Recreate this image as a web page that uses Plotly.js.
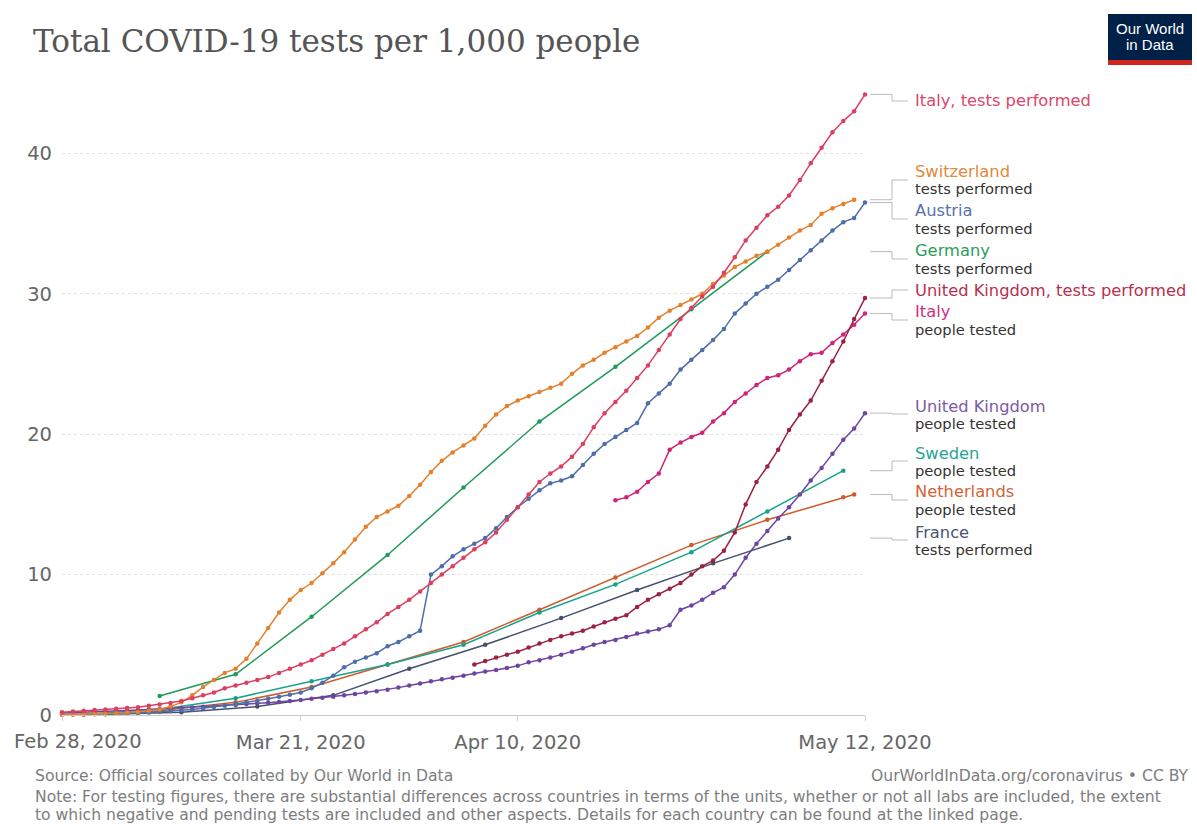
<!DOCTYPE html>
<html><head><meta charset="utf-8">
<script src="https://cdn.plot.ly/plotly-3.0.1.min.js"></script>
<style>html,body{margin:0;padding:0;background:#fff}#chart{width:1197px;height:825px}</style>
</head><body><div id="chart"></div>
<script>
// ---------- DATA ----------
const dailyStart = '2020-02-28';
const italyTests = [0.19,0.25,0.3,0.36,0.4,0.45,0.5,0.55,0.65,0.75,0.85,1.0,1.2,1.4,1.6,1.9,2.1,2.3,2.5,2.7,3.0,3.3,3.6,3.9,4.3,4.7,5.1,5.6,6.1,6.6,7.2,7.7,8.2,8.8,9.4,10.0,10.6,11.2,11.8,12.3,13.0,13.9,14.8,15.7,16.6,17.2,17.7,18.4,19.3,20.5,21.5,22.3,23.1,24.0,24.9,26.0,27.1,28.2,29.0,29.8,30.5,31.5,32.6,33.8,34.7,35.6,36.2,37.0,38.1,39.3,40.4,41.5,42.3,43.0,44.2];
const switzerlandTests = [0.02,0.03,0.05,0.07,0.1,0.13,0.17,0.22,0.3,0.4,0.6,0.9,1.4,2.0,2.5,3.0,3.3,4.0,5.1,6.2,7.3,8.2,8.9,9.4,10.1,10.8,11.6,12.5,13.4,14.1,14.5,14.9,15.6,16.4,17.3,18.1,18.7,19.2,19.7,20.6,21.4,22.0,22.4,22.7,23.0,23.3,23.6,24.3,24.9,25.3,25.8,26.2,26.6,27.0,27.6,28.3,28.8,29.2,29.6,30.0,30.7,31.3,31.9,32.3,32.7,33.0,33.5,34.0,34.5,34.9,35.7,36.1,36.4,36.7];
const austriaTests = [0.03,0.04,0.05,0.06,0.08,0.1,0.12,0.15,0.18,0.22,0.27,0.33,0.4,0.48,0.57,0.67,0.78,0.9,1.0,1.15,1.3,1.45,1.6,1.9,2.3,2.8,3.4,3.8,4.1,4.4,4.9,5.2,5.6,6.0,10.0,10.6,11.3,11.8,12.2,12.6,13.3,14.1,14.8,15.4,16.0,16.5,16.7,17.0,17.8,18.6,19.3,19.8,20.3,20.8,22.2,22.9,23.6,24.6,25.3,26.0,26.7,27.5,28.6,29.3,30.0,30.5,31.0,31.7,32.4,33.1,33.8,34.5,35.1,35.4,36.5];
const ukPeople = [0.15,0.17,0.2,0.22,0.25,0.28,0.32,0.36,0.4,0.43,0.46,0.5,0.54,0.58,0.62,0.67,0.72,0.78,0.83,0.88,0.93,1.0,1.07,1.15,1.22,1.3,1.4,1.5,1.6,1.7,1.8,1.95,2.1,2.25,2.4,2.55,2.65,2.8,2.95,3.1,3.2,3.35,3.5,3.75,3.9,4.1,4.3,4.5,4.75,5.0,5.2,5.35,5.55,5.8,5.95,6.1,6.4,7.5,7.8,8.2,8.7,9.1,10.0,11.2,12.2,13.1,14.0,14.8,15.7,16.7,17.6,18.6,19.6,20.4,21.5];
const ukTestsStart = '2020-04-06';
const ukTests = [3.6,3.85,4.1,4.3,4.5,4.8,5.1,5.35,5.6,5.8,6.0,6.3,6.6,6.85,7.1,7.7,8.2,8.6,9.0,9.4,10.0,10.6,11.0,11.7,13.0,15.0,16.6,17.7,18.9,20.3,21.4,22.4,23.8,25.2,26.6,28.2,29.7];
const italyPeopleStart = '2020-04-19';
const italyPeople = [15.3,15.5,15.9,16.6,17.2,18.9,19.4,19.8,20.1,20.9,21.5,22.3,22.9,23.5,24.0,24.2,24.6,25.2,25.7,25.8,26.5,27.1,27.8,28.6];
const germanyDates = ['2020-03-08','2020-03-15','2020-03-22','2020-03-29','2020-04-05','2020-04-12','2020-04-19','2020-04-26','2020-05-03'];
const germanyTests = [1.35,2.9,7.0,11.4,16.2,20.9,24.8,28.9,33.0];
const swedenDates = ['2020-03-01','2020-03-08','2020-03-15','2020-03-22','2020-03-29','2020-04-05','2020-04-12','2020-04-19','2020-04-26','2020-05-03','2020-05-10'];
const swedenPeople = [0.05,0.4,1.2,2.4,3.6,5.0,7.3,9.3,11.6,14.5,17.4];
const netherlandsDates = ['2020-03-01','2020-03-08','2020-03-15','2020-03-22','2020-03-29','2020-04-05','2020-04-12','2020-04-19','2020-04-26','2020-05-03','2020-05-10','2020-05-11'];
const netherlandsPeople = [0.02,0.3,0.9,2.0,3.6,5.2,7.5,9.8,12.1,13.9,15.5,15.7];
const franceDates = ['2020-03-03','2020-03-10','2020-03-17','2020-03-24','2020-03-31','2020-04-07','2020-04-14','2020-04-21','2020-04-28','2020-05-05'];
const franceTests = [0.05,0.2,0.6,1.4,3.3,5.0,6.9,8.9,10.8,12.6];

const tickDates = ['2020-02-28','2020-03-21','2020-04-10','2020-05-12'];
const tickLabels = ['Feb 28, 2020','Mar 21, 2020','Apr 10, 2020','May 12, 2020'];
const yTicks = [0,10,20,30,40];

// ---------- HELPERS ----------
function dailyDates(start, n){
  const out=[]; const t0=new Date(start+'T00:00:00Z').getTime();
  for(let i=0;i<n;i++) out.push(new Date(t0+i*86400000).toISOString().slice(0,10));
  return out;
}
const W=1197,H=825, L=62, R=865, T=93, B=715, YMAX=44.3;
const px = x => (x-L)/(R-L);
const py = y => (B-y)/(B-T);
const dy = y => (B-y)/(B-T)*YMAX;

// ---------- SERIES ----------
const series = [
  {name:'France', x:franceDates, y:franceTests, color:'#44516e', label:'France', sub:'tests performed', lc:'#4a5570', nameY:532, subY:549, cY:540},
  {name:'Netherlands', x:netherlandsDates, y:netherlandsPeople, color:'#cf5a2c', label:'Netherlands', sub:'people tested', lc:'#d2643a', nameY:492, subY:509, cY:500},
  {name:'Sweden', x:swedenDates, y:swedenPeople, color:'#17a28a', label:'Sweden', sub:'people tested', lc:'#26a592', nameY:453, subY:470, cY:461},
  {name:'UK people', x:dailyDates(dailyStart, ukPeople.length), y:ukPeople, color:'#6f45a0', label:'United Kingdom', sub:'people tested', lc:'#7b5ba8', nameY:406, subY:423, cY:414},
  {name:'Italy people', x:dailyDates(italyPeopleStart, italyPeople.length), y:italyPeople, color:'#cf2479', label:'Italy', sub:'people tested', lc:'#d0307f', nameY:311, subY:329, cY:320},
  {name:'UK tests', x:dailyDates(ukTestsStart, ukTests.length), y:ukTests, color:'#9b2341', label:'United Kingdom, tests performed', sub:null, lc:'#b8304f', nameY:290, cY:290},
  {name:'Germany', x:germanyDates, y:germanyTests, color:'#1f9a5a', label:'Germany', sub:'tests performed', lc:'#2a9d5c', nameY:250, subY:268, cY:259},
  {name:'Austria', x:dailyDates(dailyStart, austriaTests.length), y:austriaTests, color:'#4e6ea9', label:'Austria', sub:'tests performed', lc:'#5873ad', nameY:210, subY:228, cY:219},
  {name:'Switzerland', x:dailyDates(dailyStart, switzerlandTests.length), y:switzerlandTests, color:'#e3812f', label:'Switzerland', sub:'tests performed', lc:'#e08a3c', nameY:171, subY:188, cY:180},
  {name:'Italy tests', x:dailyDates(dailyStart, italyTests.length), y:italyTests, color:'#dc3f5f', label:'Italy, tests performed', sub:null, lc:'#d9476a', nameY:101, cY:101}
];

const traces = series.map(s => ({
  type:'scatter', mode:'lines+markers', x:s.x, y:s.y, name:s.name,
  line:{color:s.color, width:1.5}, marker:{color:s.color, size:4.5},
  cliponaxis:false, hoverinfo:'skip'
}));

const shapes = [];
const annotations = [];
const FONT = 'DejaVu Sans, Liberation Sans, Arial, sans-serif';

series.forEach(s => {
  const endV = s.y[s.y.length-1];
  const c = '#bbbbbb';
  shapes.push({type:'line', xref:'paper', yref:'y', x0:px(870), x1:px(892), y0:endV, y1:endV, line:{color:c, width:1}});
  shapes.push({type:'line', xref:'paper', yref:'y', x0:px(892), x1:px(892), y0:endV, y1:dy(s.cY), line:{color:c, width:1}});
  shapes.push({type:'line', xref:'paper', yref:'y', x0:px(892), x1:px(908), y0:dy(s.cY), y1:dy(s.cY), line:{color:c, width:1}});
  annotations.push({xref:'paper', yref:'paper', x:px(913), y:py(s.nameY), xanchor:'left', yanchor:'middle', showarrow:false,
    text:s.label, font:{family:FONT, size:16.3, color:s.lc}});
  if (s.sub) annotations.push({xref:'paper', yref:'paper', x:px(913), y:py(s.subY), xanchor:'left', yanchor:'middle', showarrow:false,
    text:s.sub, font:{family:FONT, size:14.7, color:'#333'}});
});

// Title
annotations.push({xref:'paper', yref:'paper', x:px(31), y:py(41), xanchor:'left', yanchor:'middle', showarrow:false,
  text:'Total COVID-19 tests per 1,000 people', font:{family:'DejaVu Serif, Liberation Serif, serif', size:31, color:'#555'}});
// Feb 28 tick label (shifted inward like the original)
annotations.push({xref:'x', yref:'paper', x:tickDates[0], y:py(742), xanchor:'center', yanchor:'middle', xshift:16, showarrow:false,
  text:tickLabels[0], font:{family:FONT, size:19.5, color:'#666'}});
// Footer
const FOOT = {family:FONT, size:15.6, color:'#7d7d7d'};
annotations.push({xref:'paper', yref:'paper', x:px(33), y:py(776), xanchor:'left', yanchor:'middle', showarrow:false,
  text:'Source: Official sources collated by Our World in Data', font:FOOT});
annotations.push({xref:'paper', yref:'paper', x:px(1191), y:py(776), xanchor:'right', yanchor:'middle', showarrow:false,
  text:'OurWorldInData.org/coronavirus • CC BY', font:FOOT});
annotations.push({xref:'paper', yref:'paper', x:px(33), y:py(797), xanchor:'left', yanchor:'middle', showarrow:false,
  text:'Note: For testing figures, there are substantial differences across countries in terms of the units, whether or not all labs are included, the extent', font:FOOT});
annotations.push({xref:'paper', yref:'paper', x:px(33), y:py(815), xanchor:'left', yanchor:'middle', showarrow:false,
  text:'to which negative and pending tests are included and other aspects. Details for each country can be found at the linked page.', font:FOOT});
// Logo
shapes.push({type:'rect', xref:'paper', yref:'paper', x0:px(1108), x1:px(1192), y0:py(60), y1:py(14), fillcolor:'#002147', line:{width:0}});
shapes.push({type:'rect', xref:'paper', yref:'paper', x0:px(1108), x1:px(1192), y0:py(65), y1:py(60), fillcolor:'#ce261e', line:{width:0}});
annotations.push({xref:'paper', yref:'paper', x:px(1150), y:py(28), xanchor:'center', yanchor:'middle', showarrow:false,
  text:'Our World', font:{family:'Liberation Sans, Arial, sans-serif', size:15, color:'#fff'}});
annotations.push({xref:'paper', yref:'paper', x:px(1150), y:py(44), xanchor:'center', yanchor:'middle', showarrow:false,
  text:'in Data', font:{family:'Liberation Sans, Arial, sans-serif', size:15, color:'#fff'}});

const layout = {
  width:W, height:H,
  margin:{l:L, r:W-R, t:T, b:H-B, pad:0},
  paper_bgcolor:'#fff', plot_bgcolor:'#fff',
  showlegend:false,
  xaxis:{type:'date', range:['2020-02-28','2020-05-12'], tickmode:'array', tickvals:tickDates,
    ticktext:['', tickLabels[1], tickLabels[2], tickLabels[3]],
    showgrid:false, zeroline:false, showline:true, linecolor:'#c8c8c8', linewidth:1,
    ticks:'outside', ticklen:5, tickcolor:'#d0d0d0', ticklabelstandoff:5,
    tickfont:{family:FONT, size:19.5, color:'#666'}, fixedrange:true},
  yaxis:{range:[0, YMAX], tickmode:'array', tickvals:yTicks, ticktext:yTicks.map(String),
    showgrid:true, gridcolor:'#e0e0e0', griddash:'3px,3px', gridwidth:1, zeroline:false, showline:false,
    ticks:'', ticklabelstandoff:9, tickfont:{family:FONT, size:19.5, color:'#666'}, fixedrange:true},
  shapes:shapes, annotations:annotations
};

Plotly.newPlot('chart', traces, layout, {staticPlot:true, displayModeBar:false});
</script>
</body></html>
